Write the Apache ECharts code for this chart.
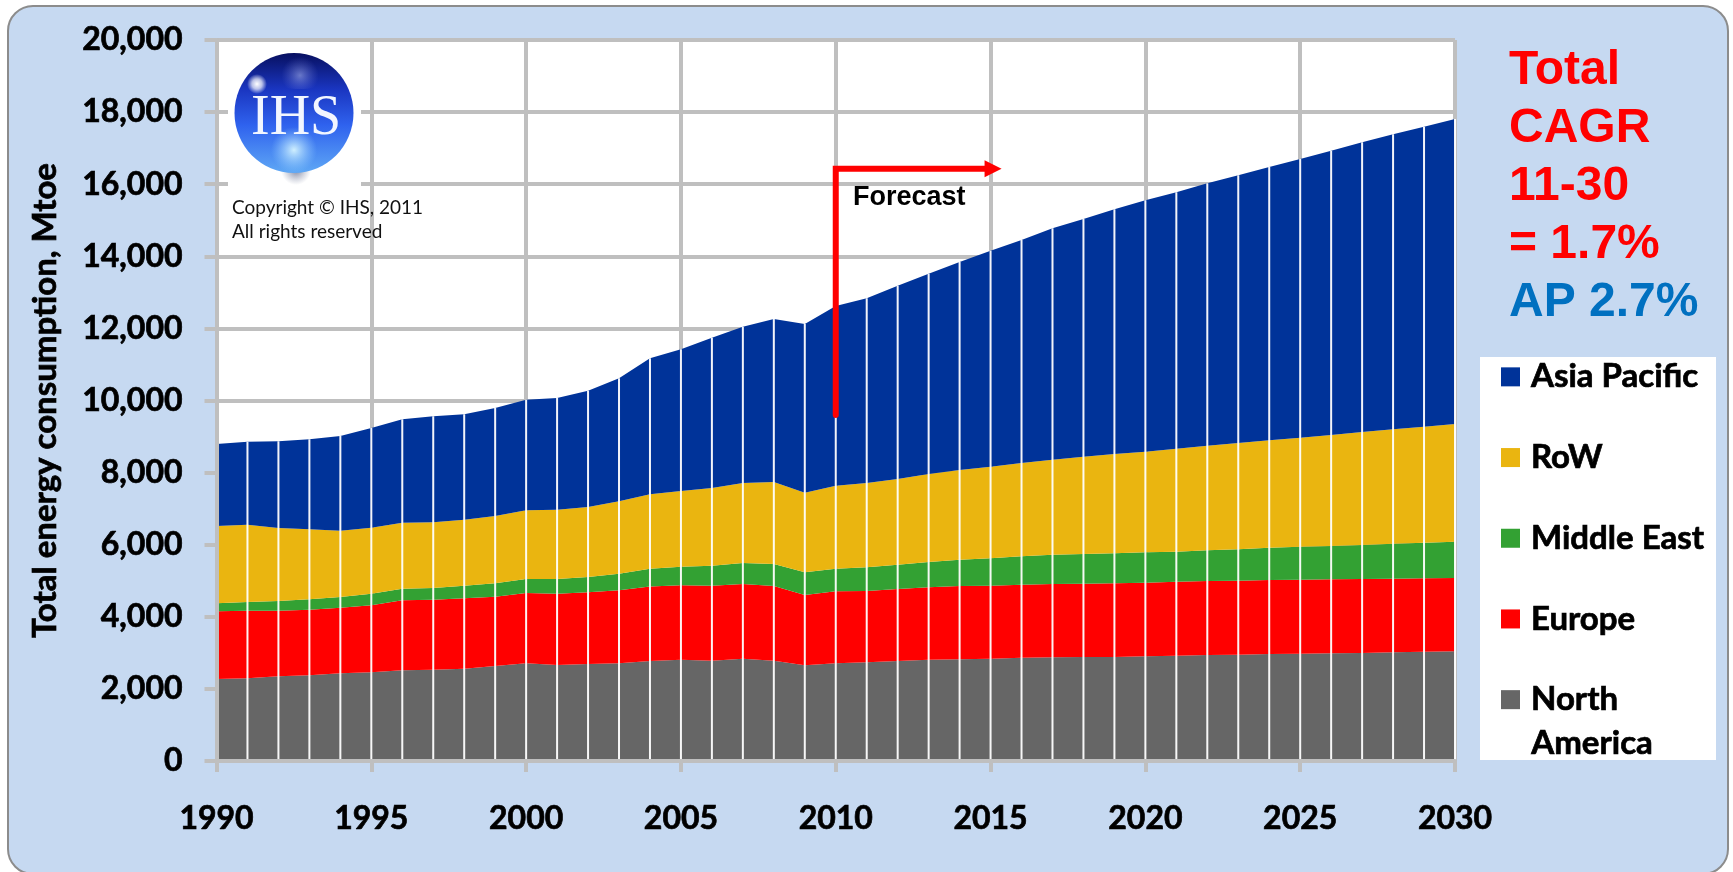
<!DOCTYPE html>
<html>
<head>
<meta charset="utf-8">
<title>Total energy consumption</title>
<script src="https://cdn.jsdelivr.net/npm/echarts@6/dist/echarts.min.js"></script>
<style>
    html, body { margin: 0; padding: 0; background: #fff; overflow: hidden; }
    #painel {
        position: absolute; left: 7px; top: 5px; width: 1722px; height: 870px;
        background: #c6d9f1; border: 2px solid #8c8c8c; border-radius: 26px; box-sizing: border-box;
    }
    #grafico { position: absolute; left: 0; top: 0; width: 1733px; height: 872px; }
</style>
</head>
<body>
<div id="painel"></div>
<div id="grafico"></div>
<script>
const anos = [1990, 1991, 1992, 1993, 1994, 1995, 1996, 1997, 1998, 1999, 2000, 2001, 2002, 2003, 2004, 2005, 2006, 2007, 2008, 2009, 2010, 2011, 2012, 2013, 2014, 2015, 2016, 2017, 2018, 2019, 2020, 2021, 2022, 2023, 2024, 2025, 2026, 2027, 2028, 2029, 2030]

// Mtoe
const northAmerica = [2275, 2293, 2349, 2376, 2432, 2460, 2515, 2534, 2561, 2635, 2709, 2663, 2691, 2709, 2775, 2811, 2783, 2839, 2783, 2654, 2709, 2737, 2774, 2811, 2820, 2839, 2866, 2875, 2885, 2885, 2903, 2922, 2940, 2950, 2968, 2977, 2987, 2996, 3014, 3033, 3042]
const europe = [1877, 1877, 1821, 1822, 1821, 1858, 1942, 1941, 1951, 1923, 1951, 1979, 1988, 2025, 2065, 2062, 2081, 2071, 2071, 1951, 1997, 1979, 1997, 2006, 2034, 2025, 2025, 2035, 2034, 2043, 2044, 2053, 2053, 2052, 2053, 2053, 2052, 2053, 2044, 2034, 2034]
const middleEast = [222, 241, 268, 287, 296, 324, 323, 324, 352, 370, 389, 407, 425, 462, 490, 518, 554, 582, 611, 628, 629, 656, 675, 703, 731, 758, 786, 814, 823, 833, 841, 832, 851, 870, 897, 916, 925, 943, 971, 989, 1008]
const row = [2145, 2145, 2025, 1941, 1840, 1831, 1831, 1821, 1830, 1868, 1904, 1923, 1942, 2007, 2067, 2099, 2155, 2219, 2274, 2210, 2303, 2339, 2376, 2441, 2486, 2542, 2588, 2635, 2700, 2755, 2793, 2857, 2903, 2949, 2977, 3023, 3079, 3134, 3171, 3218, 3264]
const asiaPacific = [2274, 2302, 2404, 2497, 2626, 2764, 2867, 2941, 2922, 2996, 3070, 3097, 3227, 3412, 3773, 3929, 4170, 4337, 4522, 4679, 4982, 5123, 5363, 5557, 5771, 5992, 6187, 6416, 6592, 6787, 6971, 7110, 7277, 7425, 7582, 7730, 7887, 8035, 8183, 8322, 8461]

const seta = [[2010, 9600], [2010, 16430], [2015.08, 16430]]
const cagr = ['Total', 'CAGR', '11-30', '= 1.7%', 'AP 2.7%']

const cinza = '#bfbfbf'
const fonte = 'Lato'
const fonteArial = '"Liberation Sans"'
// Lato bold is a bit lighter than the reference, thin outline makes up for it
const reforco = { textBorderColor: '#000', textBorderWidth: 0.7 }

const camada = (name, dados, cor) => ({
    name,
    type: 'line',
    stack: 'total',
    symbol: 'none',
    lineStyle: { width: 0 },
    areaStyle: { color: cor, opacity: 1 },
    itemStyle: { color: cor },
    z: 2,
    data: dados
})

const totais = anos.map((ano, i) => i === 0 ? '-' : northAmerica[i] + europe[i] + middleEast[i] + row[i] + asiaPacific[i])

const grafico = echarts.init(document.getElementById('grafico'), null, { renderer: 'canvas' })

const linhasTexto = cagr.map((txt, i) => ({
    type: 'text', z: 20, left: 1509, top: 44 + i * 58,
    style: {
        text: txt, font: `bold 48px ${fonteArial}`,
        fill: i === 4 ? '#0070c0' : '#ff0000', lineHeight: 54
    }
}))

const logo = [
    { type: 'rect', z: 20, shape: { x: 228, y: 45, width: 133, height: 145 }, style: { fill: '#fff' } },
    {
        type: 'ellipse', z: 21, shape: { cx: 296, cy: 170, rx: 60, ry: 15 },
        style: { fill: new echarts.graphic.RadialGradient(0.5, 0.5, 0.5, [
            { offset: 0, color: 'rgba(70,80,120,0.7)' }, { offset: 1, color: 'rgba(120,130,160,0)' }
        ]) }
    },
    {
        type: 'ellipse', z: 22, shape: { cx: 294, cy: 113, rx: 59.5, ry: 60 },
        style: { fill: new echarts.graphic.LinearGradient(0, 0, 0, 1, [
            { offset: 0, color: '#081060' }, { offset: 0.3, color: '#1a35c0' },
            { offset: 0.6, color: '#2f62ee' }, { offset: 1, color: '#5fa8f5' }
        ]) }
    },
    {
        type: 'ellipse', z: 23, shape: { cx: 294, cy: 150, rx: 48, ry: 23 },
        style: { fill: new echarts.graphic.RadialGradient(0.5, 0.5, 0.5, [
            { offset: 0, color: 'rgba(215,245,255,0.95)' }, { offset: 1, color: 'rgba(150,210,255,0)' }
        ]) }
    },
    {
        type: 'ellipse', z: 23, shape: { cx: 300, cy: 72, rx: 38, ry: 17 },
        style: { fill: new echarts.graphic.RadialGradient(0.5, 0.6, 0.55, [
            { offset: 0, color: 'rgba(190,200,245,0.5)' }, { offset: 1, color: 'rgba(120,130,220,0)' }
        ]) }
    },
    {
        type: 'circle', z: 24, shape: { cx: 257, cy: 84, r: 10 },
        style: { fill: new echarts.graphic.RadialGradient(0.5, 0.5, 0.5, [
            { offset: 0, color: 'rgba(255,255,255,1)' }, { offset: 0.5, color: 'rgba(255,255,255,0.7)' },
            { offset: 1, color: 'rgba(255,255,255,0)' }
        ]) }
    },
    {
        type: 'text', z: 25, left: 251, top: 91,
        style: { text: 'IHS', font: '56px "Liberation Serif"', fill: '#f2f6ff' }
    },
    {
        type: 'text', z: 25, left: 232, top: 198,
        style: { text: 'Copyright © IHS, 2011', font: `19px ${fonte}`, fill: '#111' }
    },
    {
        type: 'text', z: 25, left: 232, top: 222,
        style: { text: 'All rights reserved', font: `19px ${fonte}`, fill: '#111' }
    }
]

const option = {
    animation: false,
    backgroundColor: 'transparent',
    grid: {
        left: 216.5, right: 1733 - 1455, top: 40, bottom: 872 - 761,
        show: true, backgroundColor: '#fff', borderWidth: 0
    },
    legend: {
        orient: 'vertical',
        left: 1501,
        top: 360,
        z: 30,
        icon: 'rect',
        itemWidth: 19,
        itemHeight: 19,
        itemGap: 47,
        padding: 0,
        selectedMode: false,
        data: ['Asia Pacific', 'RoW', 'Middle East', 'Europe', 'North America'],
        // the last one breaks in two lines, second line is in graphic below
        formatter: (name) => name === 'North America' ? 'North' : name,
        textStyle: Object.assign({ fontFamily: fonte, fontWeight: 'bold', fontSize: 33, lineHeight: 33, color: '#000', padding: [0, 0, 0, 6] }, reforco)
    },
    xAxis: [
        {
            type: 'category', data: anos, boundaryGap: false,
            axisLine: { show: false }, axisTick: { show: false }, axisLabel: { show: false },
            splitLine: { show: true, interval: 4, lineStyle: { color: cinza, width: 4 } }
        },
        {
            // value axis for the labels, ticks and the forecast arrow
            type: 'value', min: 1990, max: 2030, interval: 5,
            position: 'bottom', z: 10,
            axisLine: { show: true, onZero: false, lineStyle: { color: cinza, width: 4 } },
            axisTick: { show: true, length: 11, lineStyle: { color: cinza, width: 4 } },
            splitLine: { show: false },
            axisLabel: Object.assign({
                show: true, margin: 42, color: '#000', fontFamily: fonte, fontWeight: 'bold', fontSize: 32,
                showMinLabel: true, showMaxLabel: true, formatter: (v) => String(v)
            }, reforco)
        }
    ],
    yAxis: [
        {
            type: 'value', min: 0, max: 20000, interval: 2000,
            axisLine: { show: false }, axisTick: { show: false }, axisLabel: { show: false },
            splitLine: { show: true, lineStyle: { color: cinza, width: 4 } }
        },
        {
            type: 'value', min: 0, max: 20000, interval: 2000,
            position: 'left', z: 10,
            name: 'Total energy consumption, Mtoe',
            nameLocation: 'middle',
            nameGap: 155,
            nameTextStyle: Object.assign({ color: '#000', fontFamily: fonte, fontWeight: 'bold', fontSize: 33 }, reforco),
            axisLine: { show: true, onZero: false, lineStyle: { color: cinza, width: 4 } },
            axisTick: { show: true, length: 12, lineStyle: { color: cinza, width: 4 } },
            splitLine: { show: false },
            axisLabel: Object.assign({
                show: true, margin: 34, color: '#000', fontFamily: fonte, fontWeight: 'bold', fontSize: 32,
                formatter: (v) => v.toLocaleString('en-US')
            }, reforco)
        }
    ],
    series: [
        camada('North America', northAmerica, '#666666'),
        camada('Europe', europe, '#ff0000'),
        camada('Middle East', middleEast, '#33a133'),
        camada('RoW', row, '#eab510'),
        camada('Asia Pacific', asiaPacific, '#003399'),
        {
            name: 'linhas',
            type: 'bar',
            barWidth: 2,
            itemStyle: { color: '#fff', opacity: 0.95 },
            z: 3,
            data: totais
        },
        {
            name: 'Forecast',
            type: 'line',
            xAxisIndex: 1,
            z: 6,
            showAllSymbol: true,
            lineStyle: { color: '#ff0000', width: 6, cap: 'round', join: 'miter' },
            itemStyle: { color: '#ff0000' },
            data: seta.map((p, i) => i < seta.length - 1
                ? { value: p, symbol: 'none' }
                : { value: p, symbol: 'triangle', symbolSize: [17, 17], symbolRotate: -90 })
        }
    ],
    graphic: [
        ...logo,
        { type: 'rect', z: 20, shape: { x: 1480, y: 357, width: 236, height: 403 }, style: { fill: '#fff' } },
        {
            type: 'text', z: 25, left: 1531, top: 727,
            style: { text: 'America', font: `bold 33px ${fonte}`, fill: '#000', stroke: '#000', lineWidth: 0.7 }
        },
        {
            type: 'text', z: 25, left: 853, top: 184,
            style: { text: 'Forecast', font: `bold 27px ${fonteArial}`, fill: '#000' }
        },
        ...linhasTexto
    ]
}

grafico.setOption(option)
</script>
</body>
</html>
